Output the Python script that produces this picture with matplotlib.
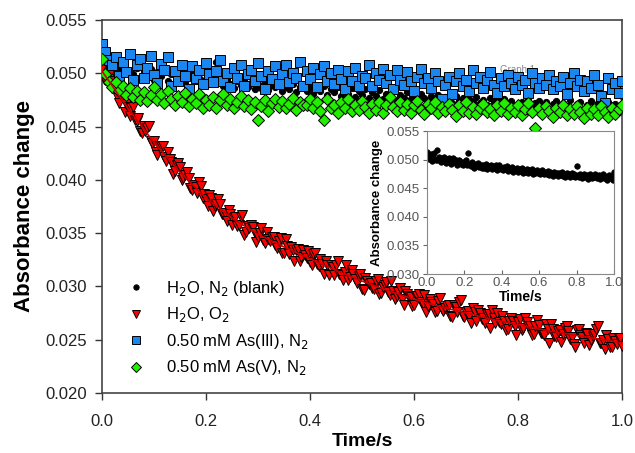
import numpy as np
import matplotlib
matplotlib.use("Agg")
import matplotlib.pyplot as plt

plt.rcParams['font.family'] = ['Liberation Sans', 'DejaVu Sans']

# absorbance change in units of 1e-5, readings evenly spaced over 0 .. 1 s
blank_n2 = [5140, 5060, 5010, 5090, 4980, 5040, 5110, 5000, 5160, 4990,
            5050, 4960, 5020, 4980, 5040, 4940, 5010, 4970, 5030, 4930,
            4990, 5020, 4950, 4990, 4910, 4970, 5000, 4930, 4960, 4900,
            4950, 4990, 4910, 5110, 4930, 4880, 4950, 4900, 4860, 4930,
            4890, 4940, 4870, 4910, 4850, 4900, 4860, 4920, 4840, 4890,
            4870, 4910, 4830, 4880, 4850, 4900, 4820, 4870, 4900, 4830,
            4860, 4810, 4870, 4830, 4880, 4800, 4850, 4820, 4870, 4790,
            4840, 4810, 4860, 4780, 4830, 4800, 4850, 4770, 4820, 4790,
            4840, 4760, 4810, 4780, 4830, 4750, 4800, 4770, 4820, 4760,
            4790, 4740, 4810, 4770, 4740, 4790, 4750, 4800, 4730, 4780,
            4750, 4720, 4790, 4740, 4770, 4710, 4760, 4730, 4780, 4720,
            4750, 4700, 4770, 4730, 4750, 4700, 4760, 4720, 4740, 4690,
            4880, 4730, 4700, 4750, 4680, 4720, 4740, 4690, 4730, 4660,
            4710, 4740, 4680, 4720, 4690, 4750, 4670, 4710, 4730, 4660,
            4700, 4740, 4680, 4720, 4650, 4700, 4730, 4670, 4710, 4640,
            4790]

water_o2 = [5050, 4947, 4933, 4970, 4987, 4894, 4860, 4927, 4843, 4770,
            4717, 4794, 4780, 4637, 4713, 4681, 4599, 4678, 4686, 4565,
            4553, 4582, 4461, 4440, 4508, 4457, 4485, 4504, 4363, 4342,
            4360, 4262, 4233, 4314, 4315, 4317, 4218, 4180, 4261, 4192,
            4163, 4055, 4086, 4138, 4159, 4122, 3994, 4018, 4042, 4076,
            4020, 3924, 3908, 3952, 3936, 3880, 3984, 3938, 3832, 3866,
            3820, 3758, 3855, 3832, 3709, 3757, 3774, 3822, 3769, 3676,
            3683, 3691, 3618, 3716, 3683, 3572, 3640, 3650, 3570, 3580,
            3650, 3670, 3480, 3510, 3570, 3550, 3580, 3560, 3500, 3420,
            3460, 3502, 3544, 3436, 3408, 3510, 3442, 3424, 3466, 3468,
            3390, 3362, 3424, 3456, 3318, 3311, 3443, 3376, 3308, 3371,
            3343, 3236, 3339, 3352, 3234, 3277, 3339, 3292, 3265, 3328,
            3230, 3203, 3305, 3318, 3211, 3194, 3256, 3209, 3121, 3234,
            3197, 3110, 3202, 3185, 3107, 3200, 3243, 3117, 3110, 3064,
            3137, 3200, 3063, 3087, 3150, 3114, 3067, 3030, 3093, 3117,
            2980, 2964, 3078, 3052, 3026, 3030, 2984, 2978, 3052, 3066,
            2930, 2934, 2998, 3012, 3046, 2951, 2915, 3050, 2954, 2879,
            2913, 2948, 2983, 2878, 2822, 2957, 2931, 2906, 2901, 2816,
            2830, 2906, 2911, 2926, 2851, 2837, 2922, 2758, 2813, 2878,
            2853, 2839, 2764, 2770, 2865, 2891, 2786, 2772, 2798, 2814,
            2830, 2726, 2712, 2828, 2804, 2760, 2856, 2872, 2718, 2714,
            2760, 2766, 2722, 2658, 2794, 2760, 2676, 2782, 2748, 2694,
            2700, 2656, 2742, 2738, 2614, 2781, 2707, 2654, 2750, 2667,
            2643, 2720, 2677, 2594, 2600, 2677, 2703, 2680, 2627, 2544,
            2670, 2697, 2593, 2610, 2707, 2664, 2630, 2627, 2543, 2550,
            2627, 2684, 2640, 2567, 2563, 2540, 2647, 2604, 2471, 2649,
            2596, 2534, 2521, 2578, 2595, 2483, 2550, 2608, 2625, 2583,
            2510, 2528, 2455, 2432, 2589, 2597, 2544, 2522, 2469, 2566,
            2553, 2451, 2498, 2536, 2553, 2600, 2627, 2465, 2472, 2500,
            2417, 2544, 2511, 2429, 2436, 2514, 2491, 2458, 2515, 2513,
            2440]

as3_n2 = [5270, 5200, 5120, 5075, 5150, 4970, 5105, 5015, 5180, 4940,
          5075, 5135, 4955, 5045, 5165, 4985, 4910, 5090, 5030, 5150,
          4885, 5020, 4930, 5080, 4975, 4855, 5065, 4960, 5035, 4900,
          5095, 4990, 4915, 5020, 5125, 4930, 5005, 4870, 5050, 4960,
          5080, 4885, 4990, 5035, 4930, 5095, 4975, 4855, 5020, 4945,
          5065, 4900, 4990, 5080, 4915, 5005, 4960, 5110, 4885, 5020,
          4945, 5050, 4870, 4990, 5065, 4930, 5005, 4900, 5035, 4945,
          4855, 5020, 4930, 5050, 4885, 4975, 4953, 5073, 4878, 4998,
          4938, 5043, 4908, 4983, 4848, 5028, 4938, 4893, 5013, 4923,
          4833, 4968, 5043, 4908, 4953, 4863, 4998, 4923, 4758, 4893,
          4968, 4803, 4923, 4998, 4878, 4938, 4833, 5028, 4908, 4968,
          4863, 4938, 5013, 4893, 4818, 4953, 4878, 4983, 4908, 4848,
          4968, 4893, 4938, 4818, 4998, 4908, 4863, 4953, 4893, 4983,
          4848, 4923, 4878, 4968, 4803, 4908, 4998, 4878, 4938, 4833,
          4923, 4863, 4983, 4893, 4788, 4720, 4953, 4848, 4908, 4818,
          4923]

as5_n2 = [5130, 4990, 4920, 4870, 4920, 4836, 4878, 4794, 4864, 4780,
          4836, 4752, 4822, 4738, 4794, 4872, 4746, 4802, 4718, 4830,
          4760, 4704, 4788, 4732, 4816, 4690, 4760, 4718, 4802, 4676,
          4746, 4704, 4774, 4676, 4746, 4802, 4704, 4760, 4676, 4732,
          4788, 4690, 4746, 4662, 4732, 4560, 4690, 4746, 4648, 4718,
          4760, 4686, 4742, 4672, 4714, 4770, 4658, 4728, 4700, 4700,
          4756, 4672, 4728, 4644, 4560, 4756, 4672, 4700, 4630, 4728,
          4672, 4756, 4644, 4700, 4658, 4742, 4686, 4630, 4714, 4658,
          4728, 4628, 4698, 4780, 4684, 4642, 4726, 4656, 4712, 4628,
          4698, 4740, 4656, 4614, 4712, 4670, 4726, 4628, 4684, 4642,
          4712, 4656, 4600, 4698, 4642, 4726, 4628, 4684, 4614, 4670,
          4712, 4636, 4664, 4608, 4706, 4650, 4720, 4622, 4678, 4636,
          4706, 4608, 4664, 4720, 4636, 4490, 4678, 4622, 4692, 4650,
          4594, 4678, 4636, 4706, 4608, 4664, 4622, 4692, 4636, 4580,
          4678, 4622, 4664, 4608, 4692, 4636, 4594, 4678, 4622, 4664,
          4706]

# fitted decay for the O2 trace
fit_t = [0.00, 0.05, 0.10, 0.15, 0.20, 0.25, 0.30, 0.35, 0.40, 0.45, 0.50,
         0.55, 0.60, 0.65, 0.70, 0.75, 0.80, 0.85, 0.90, 0.95, 1.00]
fit_o2 = [5020, 4670, 4350, 4070, 3830, 3640, 3490, 3370, 3260, 3150, 3050,
          2960, 2880, 2810, 2750, 2690, 2640, 2590, 2550, 2510, 2470]

labels = ["H$_2$O, N$_2$ (blank)", "H$_2$O, O$_2$",
          "0.50 mM As(III), N$_2$", "0.50 mM As(V), N$_2$"]

scale = 1e-5
t_slow = np.linspace(0, 1, len(blank_n2))
t_o2 = np.linspace(0, 1, len(water_o2))
blank = np.array(blank_n2) * scale
o2 = np.array(water_o2) * scale
as3 = np.array(as3_n2) * scale
as5 = np.array(as5_n2) * scale
fit = np.array(fit_o2) * scale

fig = plt.figure(figsize=(6.35, 4.53), dpi=100)
ax = fig.add_axes([0.1606, 0.1325, 0.819, 0.8234])

ax.text(0.80, 0.0503, "Graph 1", color="#888888", fontsize=7, ha="center",
        va="center", zorder=1)

ew = 0.7
ax.plot(t_slow, blank, "o", ms=4.5, mfc="black", mec="black", mew=ew,
        label=labels[0], zorder=2)
ax.plot(t_o2, o2, "v", ms=7.5, mfc="#ff0000", mec="black", mew=ew,
        label=labels[1], zorder=3)
ax.plot(t_slow, as3, "s", ms=6.8, mfc="#1a86f0", mec="black", mew=ew,
        label=labels[2], zorder=4)
ax.plot(t_slow, as5, "D", ms=6, mfc="#22ee00", mec="black", mew=ew,
        label=labels[3], zorder=5)
ax.plot(fit_t, fit, "-", color="#cc0000", lw=1.2, zorder=6)

ax.set_xlim(0, 1.0)
ax.set_ylim(0.020, 0.055)
ax.set_xticks(np.arange(0, 1.01, 0.2))
ax.set_yticks(np.arange(0.020, 0.0551, 0.005))
ax.xaxis.set_major_formatter(plt.FormatStrFormatter("%.1f"))
ax.yaxis.set_major_formatter(plt.FormatStrFormatter("%.3f"))
ax.tick_params(axis="both", direction="out", length=5, width=1,
               color="#333333", labelsize=12, labelcolor="#222222")
ax.tick_params(axis="x", pad=10)
ax.tick_params(axis="y", pad=6)
for side in ["left", "bottom", "right", "top"]:
    ax.spines[side].set_color("#444444")
    ax.spines[side].set_linewidth(1.2)
ax.set_xlabel("Time/s", fontsize=14, fontweight="bold", labelpad=3)
ax.set_ylabel("Absorbance change", fontsize=16, fontweight="bold", labelpad=7)

leg_handles = ax.get_lines()[:4]
ax.legend(leg_handles, labels, loc="upper left", bbox_to_anchor=(0.03, 0.328),
          frameon=False, fontsize=12, numpoints=1, handlelength=1.2,
          handletextpad=1.2, labelspacing=0.45, borderpad=0, markerscale=0.85)

# inset: blank trace alone
ins = fig.add_axes([0.6724, 0.3951, 0.2945, 0.3157])
ins.plot(t_slow, blank, "o", ms=4, mfc="black", mec="black", mew=0.5)
ins.set_xlim(0, 1.0)
ins.set_ylim(0.030, 0.055)
ins.set_xticks(np.arange(0, 1.01, 0.2))
ins.set_yticks(np.arange(0.030, 0.0551, 0.005))
ins.xaxis.set_major_formatter(plt.FormatStrFormatter("%.1f"))
ins.yaxis.set_major_formatter(plt.FormatStrFormatter("%.3f"))
ins.tick_params(axis="both", length=3, width=0.8, color="#666666",
                labelsize=9.5, labelcolor="#555555")
ins.tick_params(axis="x", direction="in", pad=2)
ins.tick_params(axis="y", direction="out", pad=2)
for side in ["left", "bottom", "right", "top"]:
    ins.spines[side].set_color("#888888")
    ins.spines[side].set_linewidth(0.8)
ins.set_xlabel("Time/s", fontsize=10, fontweight="bold", labelpad=1)
ins.set_ylabel("Absorbance change", fontsize=9.5, fontweight="bold", labelpad=3)

fig.savefig("out.png", dpi=100)
